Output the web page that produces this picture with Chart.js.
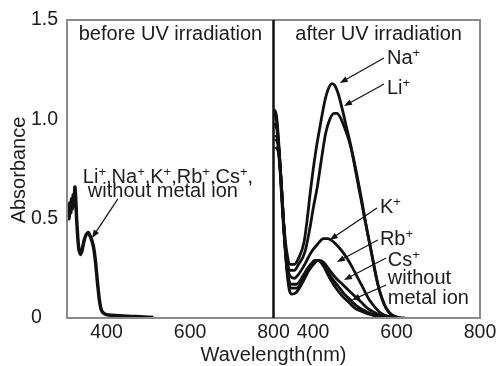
<!DOCTYPE html>
<html>
<head>
<meta charset="utf-8">
<script src="https://cdn.jsdelivr.net/npm/chart.js@4.4.1/dist/chart.umd.min.js"></script>
<style>
  html, body { margin: 0; padding: 0; background: #fff; }
  canvas { display: block; }
</style>
</head>
<body>
<canvas id="uvChart" width="499" height="366"></canvas>
<script>
// axis ticks
const yTicks = [0, 0.5, 1.0, 1.5];
const xTicks = [400, 600, 800];

// before UV irradiation (all ions give the same trace)
const wlBefore = [306, 308, 310, 312, 314, 316, 318, 320, 322, 324, 326, 328, 331, 334, 337, 341, 346, 351, 356, 361, 366, 370, 374, 378, 382, 386, 390, 396, 405, 420, 440, 460, 480, 500, 512];
const absBefore = [0.52, 0.57, 0.50, 0.58, 0.53, 0.60, 0.55, 0.62, 0.58, 0.66, 0.60, 0.50, 0.40, 0.34, 0.32, 0.34, 0.39, 0.42, 0.43, 0.41, 0.38, 0.34, 0.27, 0.18, 0.10, 0.05, 0.03, 0.02, 0.015, 0.012, 0.01, 0.008, 0.006, 0.004, 0.003];

// after UV irradiation
const wlNa = [307, 312, 317, 322, 327, 332, 337, 345, 355, 365, 378, 386, 393, 405, 417, 430, 440, 446, 452, 460, 470, 480, 490, 500, 510, 520, 530, 540, 550, 560, 570, 580, 590, 600, 620];
const absNa = [1.05, 1.02, 0.90, 0.72, 0.55, 0.42, 0.33, 0.27, 0.27, 0.30, 0.38, 0.50, 0.63, 0.82, 0.97, 1.11, 1.17, 1.18, 1.17, 1.13, 1.05, 0.96, 0.87, 0.76, 0.65, 0.54, 0.43, 0.33, 0.22, 0.13, 0.07, 0.035, 0.015, 0.005, 0];

const wlLi = [307, 312, 317, 322, 327, 332, 337, 345, 355, 365, 380, 392, 400, 410, 420, 430, 440, 450, 457, 465, 475, 485, 495, 505, 515, 525, 535, 545, 555, 565, 575, 585, 595, 610];
const absLi = [1.03, 1.0, 0.88, 0.70, 0.52, 0.38, 0.29, 0.24, 0.24, 0.27, 0.33, 0.45, 0.55, 0.66, 0.80, 0.93, 1.0, 1.03, 1.03, 1.01, 0.96, 0.90, 0.82, 0.72, 0.61, 0.49, 0.38, 0.27, 0.17, 0.10, 0.05, 0.02, 0.008, 0];

const wlK = [308, 313, 318, 324, 329, 334, 339, 345, 355, 365, 380, 395, 410, 425, 435, 445, 460, 475, 490, 505, 520, 535, 550, 565, 580, 600];
const absK = [0.98, 0.95, 0.85, 0.66, 0.48, 0.34, 0.25, 0.21, 0.20, 0.22, 0.27, 0.33, 0.37, 0.40, 0.40, 0.39, 0.36, 0.32, 0.27, 0.21, 0.15, 0.09, 0.05, 0.02, 0.008, 0];

const wlRb = [309, 315, 320, 326, 331, 336, 341, 347, 360, 375, 390, 405, 415, 425, 440, 455, 470, 485, 500, 515, 530, 545, 560, 580, 600];
const absRb = [0.92, 0.90, 0.80, 0.60, 0.42, 0.28, 0.20, 0.17, 0.17, 0.21, 0.26, 0.29, 0.29, 0.28, 0.24, 0.20, 0.17, 0.14, 0.11, 0.08, 0.05, 0.03, 0.015, 0.005, 0];

const wlCs = [309, 315, 321, 327, 332, 337, 342, 348, 360, 375, 390, 403, 410, 420, 430, 445, 460, 475, 490, 505, 520, 540, 560, 580];
const absCs = [0.90, 0.88, 0.76, 0.56, 0.38, 0.25, 0.17, 0.15, 0.15, 0.19, 0.25, 0.28, 0.29, 0.28, 0.25, 0.20, 0.16, 0.12, 0.09, 0.06, 0.04, 0.02, 0.008, 0];

const wlNone = [310, 316, 322, 328, 333, 338, 343, 349, 360, 375, 390, 405, 412, 425, 440, 455, 470, 485, 500, 520, 540, 560, 580];
const absNone = [0.86, 0.84, 0.72, 0.52, 0.35, 0.22, 0.14, 0.12, 0.13, 0.18, 0.24, 0.28, 0.29, 0.26, 0.20, 0.15, 0.11, 0.08, 0.05, 0.03, 0.015, 0.005, 0];

const FONT = "'Liberation Sans', Arial, Helvetica, sans-serif";
const INK = '#1c1c1c';

// labels and arrows, placed in data units of each panel
const notes = [
  { axis: 'xl', x: 553, y: 1.40, text: 'before UV irradiation', align: 'center' },
  { axis: 'xr', x: 557, y: 1.40, text: 'after UV irradiation', align: 'center' },
  { axis: 'xl', x: 343, y: 0.68, text: 'Li⁺,Na⁺,K⁺,Rb⁺,Cs⁺,' },
  { axis: 'xl', x: 355, y: 0.61, text: 'without metal ion' },
  { axis: 'xr', x: 577, y: 1.279, text: 'Na⁺' },
  { axis: 'xr', x: 577, y: 1.128, text: 'Li⁺' },
  { axis: 'xr', x: 560, y: 0.529, text: 'K⁺' },
  { axis: 'xr', x: 560, y: 0.367, text: 'Rb⁺' },
  { axis: 'xr', x: 579, y: 0.262, text: 'Cs⁺' },
  { axis: 'xr', x: 579, y: 0.171, text: 'without' },
  { axis: 'xr', x: 579, y: 0.070, text: 'metal ion' }
];
const arrows = [
  { axis: 'xl', from: [427, 0.60], to: [365, 0.403] },
  { axis: 'xr', from: [570, 1.309], to: [464, 1.183] },
  { axis: 'xr', from: [570, 1.178], to: [474, 1.067] },
  { axis: 'xr', from: [553, 0.554], to: [440, 0.393] },
  { axis: 'xr', from: [555, 0.393], to: [457, 0.282] },
  { axis: 'xr', from: [575, 0.302], to: [474, 0.191] },
  { axis: 'xr', from: [575, 0.166], to: [493, 0.091] }
];

function pts(xs, ys) {
  return xs.map((x, i) => ({ x: x, y: ys[i] }));
}

function curve(label, xs, ys, axis, width) {
  return {
    label: label,
    data: pts(xs, ys),
    xAxisID: axis,
    yAxisID: 'y',
    borderColor: '#111',
    borderWidth: width,
    pointRadius: 0,
    fill: false,
    cubicInterpolationMode: 'monotone'
  };
}

function xScale() {
  return {
    type: 'linear',
    position: 'bottom',
    stack: 'wl',
    stackWeight: 1,
    min: 305,
    max: 800,
    afterBuildTicks: s => { s.ticks = xTicks.map(v => ({ value: v })); },
    afterFit: s => { s.height = 26; s.paddingLeft = 0; s.paddingRight = 0; },
    ticks: { autoSkip: false, maxRotation: 0, padding: 3, color: INK, font: { family: FONT, size: 19.5 } },
    grid: { display: false, drawTicks: false },
    border: { display: false }
  };
}

// text with superscript plus signs
function drawText(ctx, str, x, y, align) {
  const parts = [];
  for (const ch of str) {
    const sup = ch === '⁺';
    const last = parts[parts.length - 1];
    if (last && last.sup === sup) last.t += sup ? '+' : ch;
    else parts.push({ t: sup ? '+' : ch, sup: sup });
  }
  let total = 0;
  parts.forEach(p => {
    ctx.font = (p.sup ? 13 : 20) + 'px ' + FONT;
    p.w = ctx.measureText(p.t).width;
    total += p.w;
  });
  let cx = align === 'center' ? x - total / 2 : x;
  ctx.textAlign = 'left';
  ctx.textBaseline = 'alphabetic';
  parts.forEach(p => {
    ctx.font = (p.sup ? 13 : 20) + 'px ' + FONT;
    ctx.fillText(p.t, cx, p.sup ? y - 7 : y);
    cx += p.w;
  });
}

function drawArrow(ctx, x1, y1, x2, y2) {
  const ang = Math.atan2(y2 - y1, x2 - x1);
  const len = 8, half = 3;
  ctx.beginPath();
  ctx.moveTo(x1, y1);
  ctx.lineTo(x2 - Math.cos(ang) * len * 0.8, y2 - Math.sin(ang) * len * 0.8);
  ctx.stroke();
  ctx.beginPath();
  ctx.moveTo(x2, y2);
  ctx.lineTo(x2 - Math.cos(ang) * len - Math.sin(ang) * half, y2 - Math.sin(ang) * len + Math.cos(ang) * half);
  ctx.lineTo(x2 - Math.cos(ang) * len + Math.sin(ang) * half, y2 - Math.sin(ang) * len - Math.cos(ang) * half);
  ctx.closePath();
  ctx.fill();
}

const panelPlugin = {
  id: 'panels',
  afterDatasetsDraw(chart) {
    const { ctx, chartArea: a, scales } = chart;
    ctx.save();
    // outer frame
    ctx.strokeStyle = '#8a8a8a';
    ctx.lineWidth = 2;
    ctx.strokeRect(a.left, a.top, a.right - a.left, a.bottom - a.top);
    // divider between the two panels
    const xd = scales.xl.right;
    ctx.strokeStyle = '#111';
    ctx.lineWidth = 2.5;
    ctx.beginPath();
    ctx.moveTo(xd, a.top);
    ctx.lineTo(xd, a.bottom);
    ctx.stroke();

    ctx.fillStyle = INK;
    notes.forEach(n => {
      drawText(ctx, n.text, scales[n.axis].getPixelForValue(n.x), scales.y.getPixelForValue(n.y), n.align);
    });

    ctx.strokeStyle = '#111';
    ctx.fillStyle = '#111';
    ctx.lineWidth = 1.2;
    arrows.forEach(ar => {
      const sx = scales[ar.axis];
      drawArrow(ctx, sx.getPixelForValue(ar.from[0]), scales.y.getPixelForValue(ar.from[1]),
        sx.getPixelForValue(ar.to[0]), scales.y.getPixelForValue(ar.to[1]));
    });

    // y axis title
    ctx.fillStyle = INK;
    ctx.font = '20px ' + FONT;
    ctx.translate(25, (a.top + a.bottom) / 2 + 1);
    ctx.rotate(-Math.PI / 2);
    ctx.textAlign = 'center';
    ctx.textBaseline = 'alphabetic';
    ctx.fillText('Absorbance', 0, 0);
    ctx.restore();
  }
};

const left = curve('before UV irradiation', wlBefore, absBefore, 'xl', 3.5);
left.cubicInterpolationMode = 'default';
left.tension = 0.1;

new Chart(document.getElementById('uvChart').getContext('2d'), {
  type: 'line',
  data: {
    datasets: [
      left,
      curve('Na+', wlNa, absNa, 'xr', 2.8),
      curve('Li+', wlLi, absLi, 'xr', 2.8),
      curve('K+', wlK, absK, 'xr', 2.8),
      curve('Rb+', wlRb, absRb, 'xr', 2.8),
      curve('Cs+', wlCs, absCs, 'xr', 2.8),
      curve('without metal ion', wlNone, absNone, 'xr', 2.8)
    ]
  },
  options: {
    responsive: false,
    animation: false,
    devicePixelRatio: 1,
    events: [],
    layout: { padding: { left: 31, right: 19, top: 20, bottom: 0 } },
    scales: {
      xl: xScale(),
      xr: xScale(),
      y: {
        min: 0,
        max: 1.5,
        afterBuildTicks: s => { s.ticks = yTicks.map(v => ({ value: v })); },
        afterFit: s => { s.width = 36; },
        ticks: {
          crossAlign: 'far',
          padding: 8,
          color: INK,
          font: { family: FONT, size: 19.5 },
          callback: v => v === 0 ? '0' : v.toFixed(1)
        },
        grid: { display: false, drawTicks: false },
        border: { display: false }
      }
    },
    plugins: {
      legend: { display: false },
      tooltip: { enabled: false },
      title: {
        display: true,
        text: 'Wavelength(nm)',
        position: 'bottom',
        fullSize: false,
        color: INK,
        font: { family: FONT, size: 20, weight: 'normal', lineHeight: 1 },
        padding: { top: 1, bottom: 1 }
      }
    }
  },
  plugins: [panelPlugin]
});
</script>
</body>
</html>
